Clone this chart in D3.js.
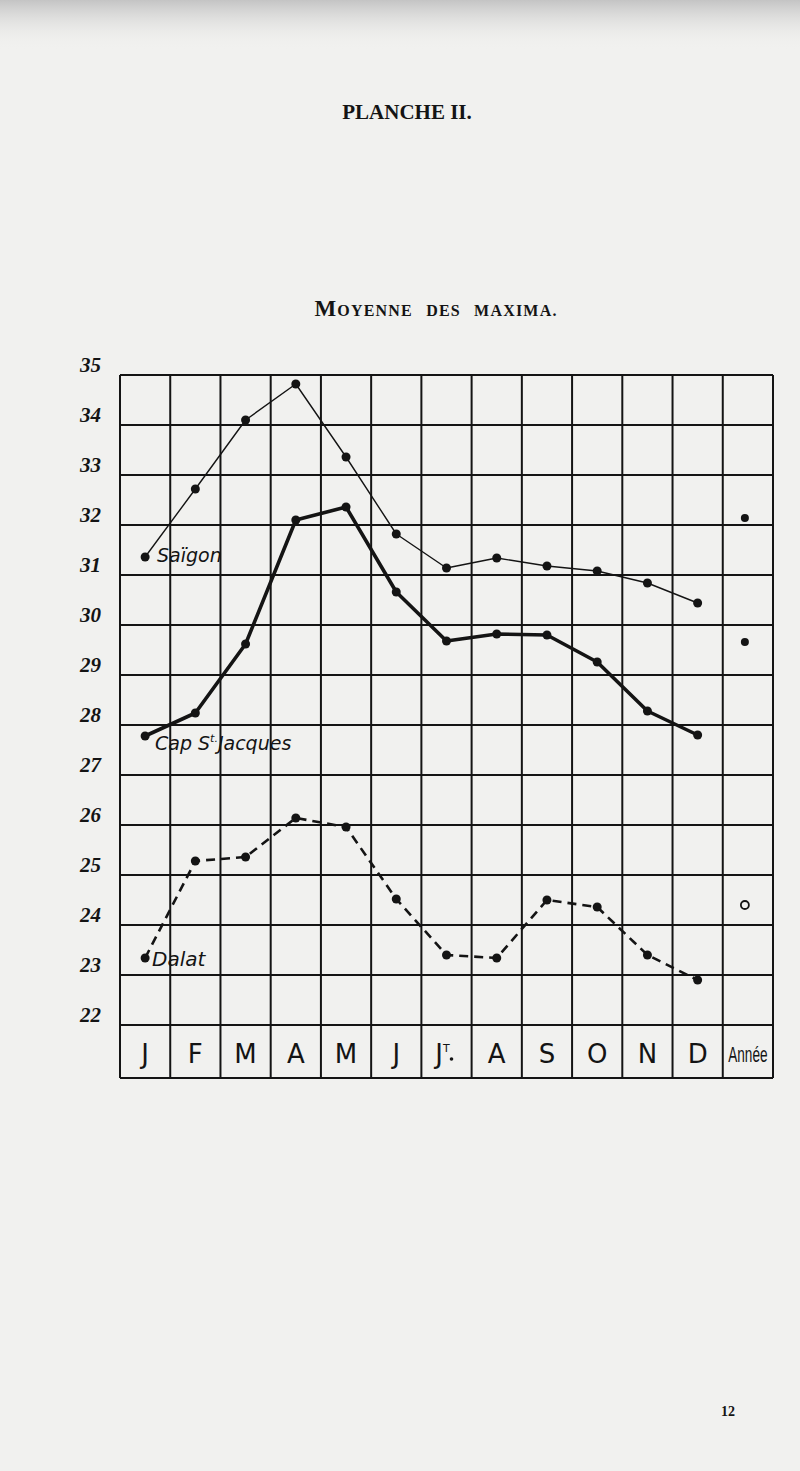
<!DOCTYPE html>
<html><head><meta charset="utf-8">
<script src="https://cdn.jsdelivr.net/npm/d3@7"></script>
<style>
html,body{margin:0;padding:0;background:#f1f1ef;}
svg{display:block;}
</style></head>
<body>
<svg id="c" width="800" height="1471"></svg>
<script>
// ---- data ----
const months = ["J","F","M","A","M2","J2","Jt","A2","S","O","N","D","Année"];
const monthLabels = ["J","F","M","A","M","J","J","A","S","O","N","D","Année"];
const yTicks = [35,34,33,32,31,30,29,28,27,26,25,24,23,22];
const saigon = [31.36,32.72,34.1,34.82,33.36,31.82,31.14,31.34,31.18,31.08,30.84,30.44];
const capStJacques = [27.78,28.24,29.62,32.1,32.36,30.66,29.68,29.82,29.8,29.26,28.28,27.8];
const dalat = [23.34,25.28,25.36,26.14,25.96,24.52,23.4,23.34,24.5,24.36,23.4,22.9];
const annee = {saigon:32.14, cap:29.66, dalat:24.4};

const svg = d3.select("#c");
const ink = "#141414";

// paper shading at top
const defs = svg.append("defs");
const g1 = defs.append("linearGradient").attr("id","top").attr("x1",0).attr("y1",0).attr("x2",0).attr("y2",1);
g1.append("stop").attr("offset",0).attr("stop-color","#c4c4c4");
g1.append("stop").attr("offset",1).attr("stop-color","#f1f1ef").attr("stop-opacity",0);
svg.append("rect").attr("x",0).attr("y",0).attr("width",800).attr("height",50).attr("fill","url(#top)");

const x = d3.scaleBand().domain(months).range([120,773]).padding(0);
const y = d3.scaleLinear().domain([22,35]).range([1025,375]);
const bottom = 1078;

// titles
svg.append("text").attr("x",407).attr("y",119).attr("text-anchor","middle")
  .attr("font-family","Liberation Serif, serif").attr("font-weight","bold").attr("font-size",21)
  .attr("fill",ink).text("PLANCHE II.");
const t2 = svg.append("text").attr("x",436).attr("y",316).attr("text-anchor","middle")
  .attr("font-family","Liberation Serif, serif").attr("font-weight","bold").attr("fill",ink)
  .attr("letter-spacing",1.2).attr("word-spacing",8);
t2.append("tspan").attr("font-size",23).text("M");
t2.append("tspan").attr("font-size",16).text("OYENNE DES MAXIMA.");

// grid
const grid = svg.append("g").attr("stroke",ink).attr("stroke-width",2).attr("fill","none");
grid.selectAll("line.h").data(yTicks).join("line").attr("class","h")
  .attr("x1",120).attr("x2",773).attr("y1",d=>y(d)).attr("y2",d=>y(d));
grid.append("line").attr("x1",120).attr("x2",773).attr("y1",bottom).attr("y2",bottom);
const vx = months.map(m=>x(m)).concat([x.range()[1]]);
grid.selectAll("line.v").data(vx).join("line").attr("class","v")
  .attr("x1",d=>d).attr("x2",d=>d).attr("y1",y(35)).attr("y2",bottom);

// y tick labels
svg.append("g").selectAll("text").data(yTicks).join("text")
  .attr("x",101).attr("y",d=>y(d)-3).attr("text-anchor","end")
  .attr("font-family","Liberation Serif, serif").attr("font-style","italic").attr("font-weight","bold")
  .attr("font-size",21).attr("fill",ink).text(d=>d);

// month labels
const ml = svg.append("g").attr("font-family","DejaVu Sans, sans-serif").attr("fill",ink).attr("text-anchor","middle");
months.forEach((m,i)=>{
  const cx = x(m)+x.bandwidth()/2;
  if(m==="Année"){
    ml.append("text").attr("x",cx).attr("font-size",16)
      .attr("font-family","Liberation Sans Narrow, Liberation Sans, sans-serif")
      .attr("transform",`translate(${cx},0) scale(0.85,1.35) translate(${-cx},0)`)
      .attr("y",1062/1.35).text(monthLabels[i]);
  } else if(m==="Jt"){
    const t = ml.append("text").attr("x",cx-4).attr("y",1063).attr("font-size",26);
    t.append("tspan").text("J");
    t.append("tspan").attr("font-size",11).attr("dy",-11).text("T");
    ml.append("circle").attr("cx",cx+5).attr("cy",1059).attr("r",1.8).attr("fill",ink);
  } else {
    ml.append("text").attr("x",cx).attr("y",1063).attr("font-size",26).text(monthLabels[i]);
  }
});

// series
const mx = months.slice(0,12);
const line = d3.line().x((d,i)=>x(mx[i])+x.bandwidth()/2).y(d=>y(d));
function series(data, width, dash){
  svg.append("path").datum(data).attr("d",line).attr("fill","none").attr("stroke",ink)
    .attr("stroke-width",width).attr("stroke-linejoin","round").attr("stroke-dasharray",dash||null);
  svg.append("g").selectAll("circle").data(data).join("circle")
    .attr("cx",(d,i)=>x(mx[i])+x.bandwidth()/2).attr("cy",d=>y(d)).attr("r",4.5).attr("fill",ink);
}
series(saigon,1.4);
series(capStJacques,3.6);
series(dalat,2.6,"9,6");

// année points
const ax = x("Année")+x.bandwidth()/2 - 3;
svg.append("circle").attr("cx",ax).attr("cy",y(annee.saigon)).attr("r",4).attr("fill",ink);
svg.append("circle").attr("cx",ax).attr("cy",y(annee.cap)).attr("r",4).attr("fill",ink);
svg.append("circle").attr("cx",ax).attr("cy",y(annee.dalat)).attr("r",4).attr("fill","none").attr("stroke",ink).attr("stroke-width",1.8);

// series labels
const lf = "DejaVu Sans, sans-serif";
svg.append("text").attr("x",157).attr("y",y(saigon[0])+5).attr("font-family",lf).attr("font-style","italic")
  .attr("font-size",19).attr("fill",ink).text("Saïgon");
const cl = svg.append("text").attr("x",155).attr("y",y(capStJacques[0])+14).attr("font-family",lf).attr("font-style","italic")
  .attr("font-size",19).attr("fill",ink);
cl.append("tspan").text("Cap S");
cl.append("tspan").attr("font-size",11).attr("dy",-8).text("t.");
cl.append("tspan").attr("dy",8).text("Jacques");
svg.append("text").attr("x",152).attr("y",y(dalat[0])+8).attr("font-family",lf).attr("font-style","italic")
  .attr("font-size",20).attr("fill",ink).text("Dalat");

// page number
svg.append("text").attr("x",728).attr("y",1416).attr("text-anchor","middle")
  .attr("font-family","Liberation Serif, serif").attr("font-weight","bold").attr("font-size",14)
  .attr("fill",ink).text("12");
</script>
</body></html>
